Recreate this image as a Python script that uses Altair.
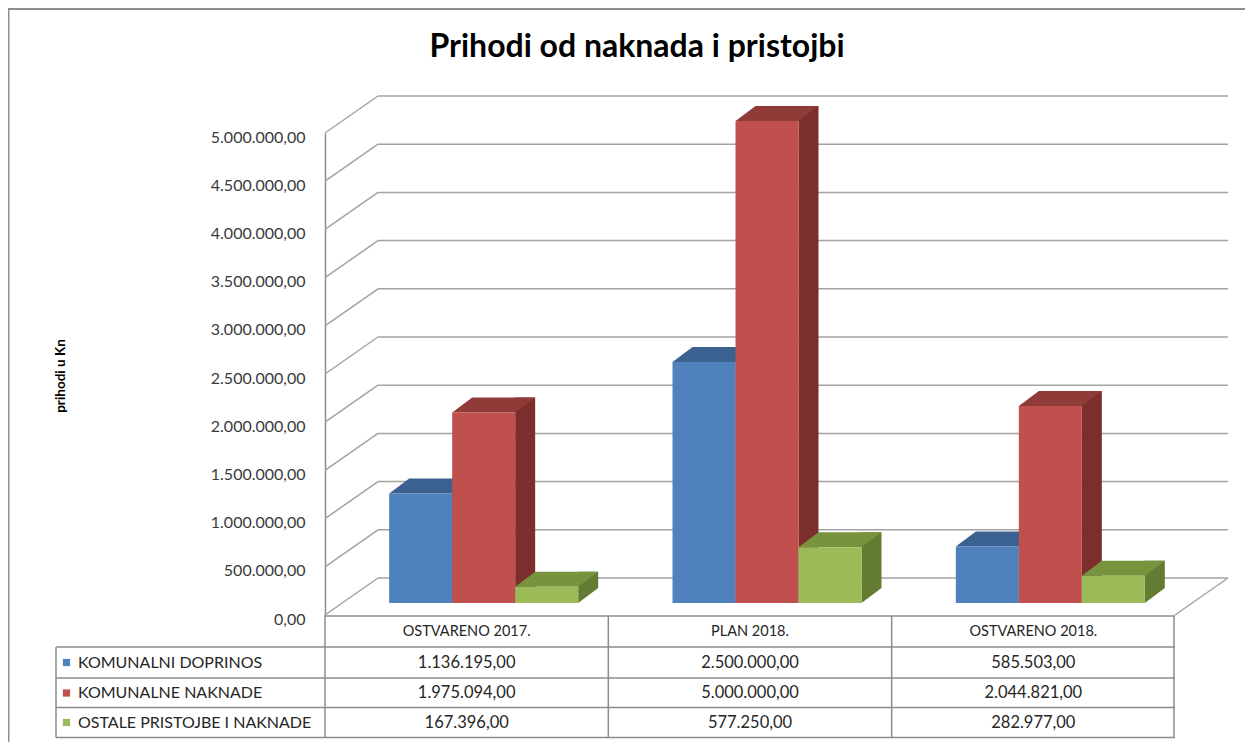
import altair as alt
import pandas as pd

# ---------------- data ----------------
categories = ["OSTVARENO 2017.", "PLAN 2018.", "OSTVARENO 2018."]
series = ["KOMUNALNI DOPRINOS", "KOMUNALNE NAKNADE", "OSTALE PRISTOJBE I NAKNADE"]
komunalni_doprinos = [1136195, 2500000, 585503]
komunalne_naknade = [1975094, 5000000, 2044821]
ostale_pristojbe = [167396, 577250, 282977]
y_ticks = [0, 500000, 1000000, 1500000, 2000000, 2500000,
           3000000, 3500000, 4000000, 4500000, 5000000]
title_text = "Prihodi od naknada i pristojbi"
y_title = "prihodi u Kn"

# ---------------- style ----------------
front_colors = ["#4F81BD", "#C0504D", "#9BBB59"]
top_colors = ["#3B6190", "#8F3B38", "#77933E"]
side_colors = ["#2F4E74", "#7B2E2C", "#637C31"]
grid_color = "#a3a3a3"
line_color = "#8c8c8c"
FONT = "Lato"

W, H = 850, 482
STEP = W / 3
BAR_DX, BAR_DY = 17, -12        # bars sit half-way into the depth
DEP_X, DEP_Y = 20, -15          # bar depth
WALL_DX, WALL_DY = 53, -37      # back wall offset
BAR_W = 63
LEFT0 = (STEP - 3 * BAR_W) / 2 + BAR_DX

values = [komunalni_doprinos, komunalne_naknade, ostale_pristojbe]
rows = []
for si, s in enumerate(series):
    for ci, c in enumerate(categories):
        rows.append({"cat": c, "ser": s, "v": values[si][ci], "zero": 0})
df = pd.DataFrame(rows)
ticks_df = pd.DataFrame({"t": y_ticks})
cat_df = pd.DataFrame({"cat": categories})

x_enc = alt.X("cat:N", scale=alt.Scale(domain=categories, paddingInner=0, paddingOuter=0), axis=None)
xoff_front = alt.XOffset("ser:N", scale=alt.Scale(domain=series, paddingInner=0, paddingOuter=0,
                                                   range=[LEFT0, LEFT0 + 3 * BAR_W]))
side_left = LEFT0 + BAR_W + DEP_X / 2 - BAR_W / 2
xoff_side = alt.XOffset("ser:N", scale=alt.Scale(domain=series, paddingInner=0, paddingOuter=0,
                                                  range=[side_left, side_left + 3 * BAR_W]))
xoff_point = alt.XOffset("ser:N", scale=alt.Scale(type="point", domain=series, padding=0,
                                                   range=[LEFT0 + BAR_W / 2, LEFT0 + 2.5 * BAR_W]))
y_scale = alt.Scale(domain=[0, 5000000], nice=False, zero=True)
y_axis = alt.Axis(values=y_ticks, format=",.2f", title=None, grid=False, ticks=False,
                  domainColor=line_color, domainWidth=1.5, labelFont=FONT,
                  labelFontSize=16, labelColor="#3a3a3a", labelPadding=20, labelOffset=4)


def Y(field):
    return alt.Y(field, scale=y_scale, axis=y_axis)


def col(rng):
    return alt.Color("ser:N", scale=alt.Scale(domain=series, range=rng), legend=None)


def seg(x1, y1, x2, y2, color=line_color, w=1.5):
    return alt.Chart(cat_df.head(1)).mark_rule(color=color, strokeWidth=w).encode(
        x=alt.value(x1), y=alt.value(y1), x2=alt.value(x2), y2=alt.value(y2))


base = alt.Chart(df)

# back wall grid + diagonals
wall = alt.Chart(ticks_df).mark_rule(color=grid_color, strokeWidth=1.5, yOffset=WALL_DY).encode(
    y=Y("t:Q"), x=alt.value(WALL_DX), x2=alt.value(W + WALL_DX))
diag = alt.Chart(ticks_df).mark_rule(color=grid_color, strokeWidth=1.5, y2Offset=WALL_DY).encode(
    y=Y("t:Q"), y2=alt.Y2("t:Q"), x=alt.value(0), x2=alt.value(WALL_DX))
floor_right = seg(W, H, W + WALL_DX, H + WALL_DY, grid_color)

# 3D bars
sides = base.mark_bar(width=DEP_X, yOffset=BAR_DY + DEP_Y, y2Offset=BAR_DY + DEP_Y).encode(
    x=x_enc, xOffset=xoff_side, y=Y("v:Q"), color=col(side_colors))
h = BAR_W / 2
bot_path = f"M {h} 0 L {h + DEP_X} {DEP_Y} L {h} {DEP_Y} Z"
bots = base.mark_point(shape=bot_path, size=4, filled=True, opacity=1, strokeWidth=0,
                       yOffset=BAR_DY).encode(
    x=x_enc, xOffset=xoff_point, y=Y("zero:Q"), color=col(side_colors))
top_path = f"M {-h} 0 L {h} 0 L {h + DEP_X} {DEP_Y} L {-h + DEP_X} {DEP_Y} Z"
tops = base.mark_point(shape=top_path, size=4, filled=True, opacity=1, strokeWidth=0,
                       yOffset=BAR_DY).encode(
    x=x_enc, xOffset=xoff_point, y=Y("v:Q"), color=col(top_colors))
fronts = base.mark_bar(yOffset=BAR_DY, y2Offset=BAR_DY).encode(
    x=x_enc, xOffset=xoff_front, y=Y("v:Q"), color=col(front_colors))

# table
row_y = [529.5, 560, 589.5]
header_y = 499
table_lines = [
    seg(0, 483, W, 483), seg(-269, 514, W, 514), seg(-269, 545, W, 545),
    seg(-269, 574.5, W, 574.5), seg(-269, 604.5, W, 604.5),
    seg(-269, 514, -269, 604.5), seg(0, 482, 0, 604.5),
    seg(STEP, 483, STEP, 604.5), seg(2 * STEP, 483, 2 * STEP, 604.5), seg(W - 1, 483, W - 1, 604.5),
]
header = alt.Chart(cat_df).mark_text(font=FONT, fontSize=14.5, color="#262626").encode(
    x=x_enc, y=alt.value(header_y), text="cat:N")
table_layers = []
for i, s in enumerate(series):
    sub = df[df.ser == s]
    table_layers.append(alt.Chart(sub).mark_text(font=FONT, fontSize=16.5, color="#262626").encode(
        x=x_enc, y=alt.value(row_y[i]), text=alt.Text("v:Q", format=",.2f")))
    one = sub.head(1)
    table_layers.append(alt.Chart(one).mark_text(font=FONT, fontSize=16, color="#262626", align="left").encode(
        x=alt.value(-247), y=alt.value(row_y[i]), text="ser:N"))
    table_layers.append(alt.Chart(one).mark_square(size=52, filled=True, opacity=1).encode(
        x=alt.value(-258.5), y=alt.value(row_y[i]), color=alt.value(front_colors[i])))

# titles + frame
title = alt.Chart(cat_df.head(1)).mark_text(font=FONT, fontSize=32, fontWeight="bold", color="#000000").encode(
    x=alt.value(312), y=alt.value(-86), text=alt.value(title_text))
ytitle = alt.Chart(cat_df.head(1)).mark_text(font=FONT, fontSize=13.5, fontWeight="bold", angle=270,
                                             color="#000000").encode(
    x=alt.value(-264), y=alt.value(243), text=alt.value(y_title))
frame = [seg(-316.5, -124, -316.5, 620, "#8f8f8f", 2), seg(-317, -124, W + 80, -124, "#8f8f8f", 2)]

layers = [wall, diag, floor_right, sides, bots, tops, fronts, header, title, ytitle] + table_lines + table_layers + frame
chart = alt.layer(*layers).resolve_scale(color="independent", xOffset="independent").properties(
    width=W, height=H,
    padding={"left": 317, "top": 125, "right": 70, "bottom": 127},
    autosize=alt.AutoSizeParams(type="none"),
).configure(
    locale={"number": {"decimal": ",", "thousands": ".", "grouping": [3], "currency": ["", ""]}},
    view={"stroke": None},
)

chart.save("out.html", embed_options={"renderer": "svg", "actions": False})
